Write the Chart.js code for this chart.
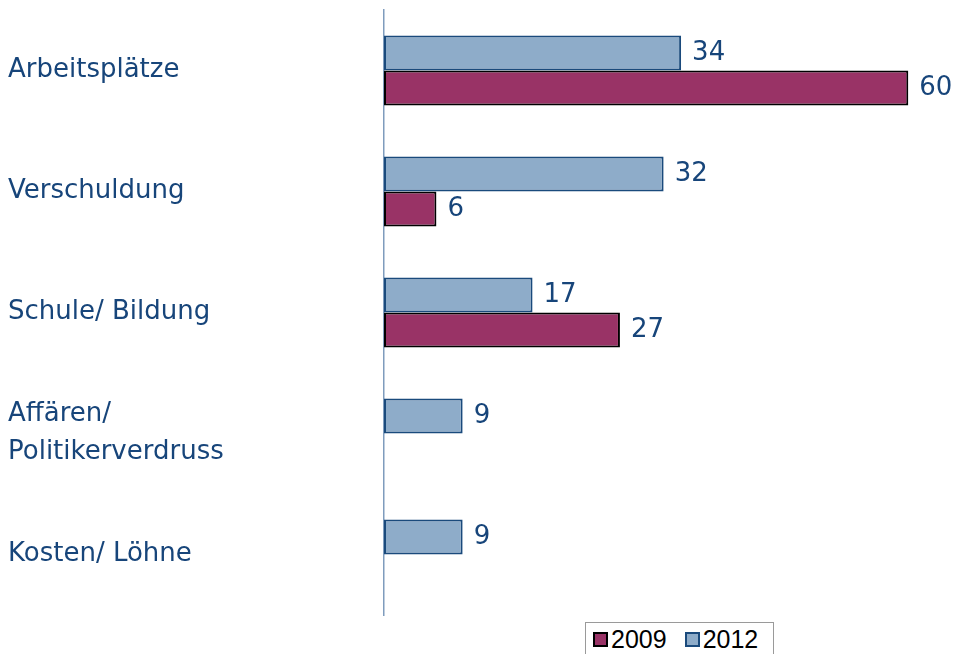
<!DOCTYPE html>
<html><head><meta charset="utf-8">
<script src="https://cdn.jsdelivr.net/npm/chart.js@4/dist/chart.umd.min.js"></script>
<style>
html,body{margin:0;padding:0;background:#fff;}
#wrap{position:relative;width:954px;height:654px;}
#legend{position:absolute;left:585px;top:622px;width:189px;height:40px;border:1px solid #9a9a9a;background:#fff;
 font-family:"Liberation Sans",Arial,sans-serif;font-size:25px;color:#000;display:flex;align-items:center;box-sizing:border-box;padding-left:7px;padding-bottom:5px;}
.sw{display:inline-block;width:15px;height:15px;box-sizing:border-box;border:2px solid #000;margin-right:3px;}
.it{display:flex;align-items:center;margin-right:18px;}
</style></head>
<body><div id="wrap"><canvas id="c" width="954" height="654"></canvas>
<div id="legend"></div></div>
<script>
const categories = ['Arbeitsplätze', 'Verschuldung', 'Schule/ Bildung', ['Affären/', 'Politikerverdruss'], 'Kosten/ Löhne'];
const values2012 = [34, 32, 17, 9, 9];
const values2009 = [60, 6, 27, null, null];
const seriesNames = ['2012', '2009'];

const textColor = '#17457a';
const fill2012 = '#8eacc9', border2012 = '#1a4a7c';
const fill2009 = '#993366', border2009 = '#000000';
const fontFamily = '"DejaVu Sans", Verdana, sans-serif';

const valueLabels = {
  id: 'valueLabels',
  afterDatasetsDraw(chart) {
    const ctx = chart.ctx;
    ctx.save();
    ctx.font = '26px ' + fontFamily;
    ctx.fillStyle = textColor;
    ctx.textAlign = 'left';
    ctx.textBaseline = 'middle';
    chart.data.datasets.forEach((ds, di) => {
      const meta = chart.getDatasetMeta(di);
      meta.data.forEach((bar, i) => {
        const v = ds.data[i];
        if (v === null || v === undefined) return;
        ctx.fillText(String(v), bar.x + 11, bar.y);
      });
    });
    ctx.restore();
  }
};

new Chart(document.getElementById('c'), {
  type: 'bar',
  data: {
    labels: categories,
    datasets: [
      { label: seriesNames[0], data: values2012, backgroundColor: fill2012, borderColor: border2012, borderWidth: 2, borderSkipped: false },
      { label: seriesNames[1], data: values2009, backgroundColor: fill2009, borderColor: border2009, borderWidth: 2, borderSkipped: false }
    ]
  },
  options: {
    indexAxis: 'y',
    responsive: false,
    animation: false,
    layout: { padding: { left: 8, top: 10, bottom: 39, right: 2 } },
    datasets: { bar: { barPercentage: 1, categoryPercentage: 0.58 } },
    scales: {
      x: { display: false, min: 0, max: 65 },
      y: {
        afterFit(scale) { scale.width = 376; scale.paddingTop = 0; scale.paddingBottom = 0; },
        grid: { display: false, drawTicks: false },
        border: { display: true, color: '#7f9cbd', width: 1.5 },
        ticks: {
          crossAlign: 'far',
          color: textColor,
          padding: 0,
          font: { family: fontFamily, size: 26, lineHeight: 1.46 }
        }
      }
    },
    plugins: { legend: { display: false }, tooltip: { enabled: false } }
  },
  plugins: [valueLabels]
});

const leg = document.getElementById('legend');
[[seriesNames[1], fill2009, border2009], [seriesNames[0], fill2012, border2012]].forEach(([n, f, b]) => {
  const it = document.createElement('span'); it.className = 'it';
  const sw = document.createElement('span'); sw.className = 'sw'; sw.style.background = f; sw.style.borderColor = b;
  it.appendChild(sw); it.appendChild(document.createTextNode(n));
  leg.appendChild(it);
});
</script></body></html>
